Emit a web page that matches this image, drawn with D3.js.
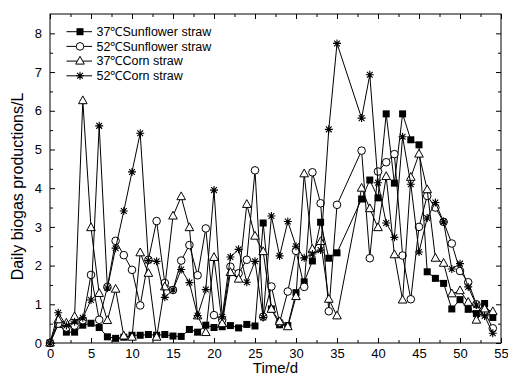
<!DOCTYPE html>
<html><head><meta charset="utf-8">
<script src="https://cdn.jsdelivr.net/npm/d3@7"></script>
<style>html,body{margin:0;padding:0;background:#fff}svg{display:block}</style>
</head><body>
<svg id="c" width="508" height="376"></svg>
<script>
const days = [0,1,2,3,4,5,6,7,8,9,10,11,12,13,14,15,16,17,18,19,20,21,22,23,24,25,26,27,28,29,30,31,32,33,34,35,38,39,40,41,42,43,44,45,46,47,48,49,50,51,52,53,54];
const sun37 = [0,0.48,0.28,0.28,0.46,0.51,0.40,0.16,0.12,0.15,0.2,0.2,0.22,0.2,0.22,0.18,0.17,0.35,0.28,0.46,0.40,0.42,0.45,0.39,0.48,0.44,3.1,0.88,0.47,0.45,1.3,1.58,2.12,3.12,2.19,2.33,3.72,4.21,3.75,5.92,4.13,5.92,5.25,5.12,1.84,1.67,1.54,0.88,1.12,0.87,0.76,1.02,0.66];
const sun52 = [0,0.5,0.4,0.45,0.59,1.76,0.6,1.45,2.64,2.27,1.89,0.97,2.15,3.15,1.55,1.37,2.13,2.53,1.75,2.96,0.72,0.6,1.97,1.8,2.15,4.46,0.68,1.46,0.53,1.33,2.38,1.45,4.41,3.61,0.82,3.57,4.97,2.19,4.43,4.67,4.88,2.26,1.13,3.0,3.8,3.5,3.13,2.57,1.86,1.57,1.0,0.8,0.38];
const corn37 = [0,0.6,0.51,0.68,6.26,2.98,1.28,0.58,1.39,0.18,0.15,2.33,1.80,0.15,1.45,3.28,3.78,2.98,0.7,0.27,2.21,0.5,1.82,1.65,3.58,2.76,2.36,0.87,0.55,0.42,1.2,4.37,2.42,2.62,1.13,0.70,4.0,3.47,2.98,4.30,2.28,1.11,4.28,4.88,3.96,2.19,2.06,1.27,1.35,1.05,0.59,0.88,0.81];
const corn52 = [0,0.78,0.45,0.55,0.65,1.11,5.61,1.42,2.45,3.41,4.42,5.42,2.13,2.11,1.18,1.37,1.9,1.56,0.71,1.38,3.95,0.68,2.22,2.42,1.57,2.11,0.66,3.28,2.25,3.14,2.5,2.2,2.3,2.4,5.52,7.74,5.81,6.93,4.14,3.1,2.73,5.33,4.1,2.35,3.23,3.63,3.13,1.91,2.05,1.45,0.98,0.7,0.25];
const seriesNames = ["37\u2103Sunflower straw","52\u2103Sunflower straw","37\u2103Corn straw","52\u2103Corn straw"];
const seriesSymbols = ["square","circle","triangle","star"];
const xMajor = [0,5,10,15,20,25,30,35,40,45,50,55];
const xMinor = [2.5,7.5,12.5,17.5,22.5,27.5,32.5,37.5,42.5,47.5,52.5];
const yMajor = [0,1,2,3,4,5,6,7,8];
const yMinor = [0.5,1.5,2.5,3.5,4.5,5.5,6.5,7.5];
const xTitle = "Time/d";
const yTitle = "Daily biogas productions/L";

const allSeries = [sun37, sun52, corn37, corn52];
const svg = d3.select("#c");
const L=50,R=501,T=14,B=343;
const x = d3.scaleLinear().domain([0,55]).range([L,R]);
const y = d3.scaleLinear().domain([0,8.5]).range([B,T]);
const font = "'Liberation Sans', Arial, sans-serif";

function styleAxis(g){
  g.selectAll("path,line").attr("stroke","#000").attr("stroke-width",1);
  g.selectAll("text").attr("font-family",font).attr("font-size",13).attr("fill","#000");
}
// bottom
svg.append("g").attr("transform",`translate(0,${B})`).call(d3.axisBottom(x).tickValues(xMajor).tickSize(-5).tickSizeOuter(0).tickPadding(6).tickFormat(d3.format("d"))).call(styleAxis);
svg.append("g").attr("transform",`translate(0,${B})`).call(d3.axisBottom(x).tickValues(xMinor).tickSize(-3).tickSizeOuter(0).tickFormat("")).call(styleAxis);
// top
svg.append("g").attr("transform",`translate(0,${T})`).call(d3.axisTop(x).tickValues(xMajor).tickSize(-5).tickSizeOuter(0).tickFormat("")).call(styleAxis);
svg.append("g").attr("transform",`translate(0,${T})`).call(d3.axisTop(x).tickValues(xMinor).tickSize(-3).tickSizeOuter(0).tickFormat("")).call(styleAxis);
// left
svg.append("g").attr("transform",`translate(${L},0)`).call(d3.axisLeft(y).tickValues(yMajor).tickSize(-5).tickSizeOuter(0).tickPadding(8).tickFormat(d3.format("d"))).call(styleAxis);
svg.append("g").attr("transform",`translate(${L},0)`).call(d3.axisLeft(y).tickValues(yMinor).tickSize(-3).tickSizeOuter(0).tickFormat("")).call(styleAxis);
// right
svg.append("g").attr("transform",`translate(${R},0)`).call(d3.axisRight(y).tickValues(yMajor).tickSize(-5).tickSizeOuter(0).tickFormat("")).call(styleAxis);
svg.append("g").attr("transform",`translate(${R},0)`).call(d3.axisRight(y).tickValues(yMinor).tickSize(-3).tickSizeOuter(0).tickFormat("")).call(styleAxis);
svg.selectAll(".domain").remove();
svg.append("rect").attr("x",L).attr("y",T).attr("width",R-L).attr("height",B-T).attr("fill","none").attr("stroke","#000").attr("stroke-width",1);

function drawSymbol(g, type, cx, cy){
  if(type==="square"){
    g.append("rect").attr("x",cx-3.5).attr("y",cy-3.5).attr("width",7).attr("height",7).attr("fill","#000");
  } else if(type==="circle"){
    g.append("circle").attr("cx",cx).attr("cy",cy).attr("r",3.8).attr("fill","#fff").attr("stroke","#000").attr("stroke-width",1);
  } else if(type==="triangle"){
    g.append("path").attr("d",`M${cx},${cy-4.8}L${cx+4.3},${cy+3}L${cx-4.3},${cy+3}Z`).attr("fill","#fff").attr("stroke","#000").attr("stroke-width",1);
  } else {
    const r=4, d=2.9;
    g.append("path").attr("d",`M${cx},${cy-r}V${cy+r}M${cx-r},${cy}H${cx+r}M${cx-d},${cy-d}L${cx+d},${cy+d}M${cx-d},${cy+d}L${cx+d},${cy-d}`).attr("stroke","#000").attr("stroke-width",1.1).attr("fill","none");
  }
}

const line = d3.line().x(d=>x(d[0])).y(d=>y(d[1]));
const plot = svg.append("g");
allSeries.forEach((vals,i)=>{
  const pts = days.map((d,j)=>[d, vals[j]]);
  const g = plot.append("g");
  g.append("path").attr("d",line(pts)).attr("fill","none").attr("stroke","#000").attr("stroke-width",1);
  pts.forEach(p=>drawSymbol(g, seriesSymbols[i], x(p[0]), y(p[1])));
});

// legend
const lg = svg.append("g");
seriesNames.forEach((name,i)=>{
  const cy = 31.7 + i*14.7;
  lg.append("line").attr("x1",66.5).attr("x2",92).attr("y1",cy).attr("y2",cy).attr("stroke","#000").attr("stroke-width",1);
  drawSymbol(lg, seriesSymbols[i], 80, cy);
  lg.append("text").attr("x",96.5).attr("y",cy).attr("dy","0.35em").attr("font-family",font).attr("font-size",12.5).text(name);
});

// titles
svg.append("text").attr("x",(L+R)/2).attr("y",373).attr("text-anchor","middle").attr("font-family",font).attr("font-size",15).text(xTitle);
svg.append("text").attr("transform",`translate(23,${(T+B)/2+8}) rotate(-90)`).attr("text-anchor","middle").attr("font-family",font).attr("font-size",16).text(yTitle);
</script>
</body></html>
